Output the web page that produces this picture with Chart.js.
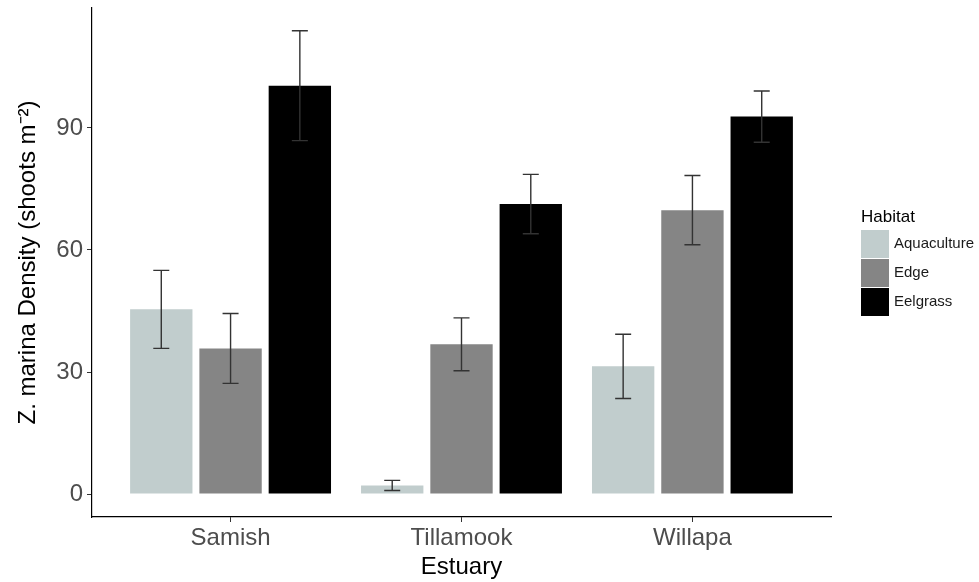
<!DOCTYPE html>
<html>
<head>
<meta charset="utf-8">
<script src="https://cdn.jsdelivr.net/npm/chart.js@4/dist/chart.umd.min.js"></script>
<style>
  html, body { margin: 0; padding: 0; background: #fff; }
  #wrap { width: 979px; height: 582px; position: relative; }
</style>
</head>
<body>
<div id="wrap"><canvas id="chart"></canvas></div>
<script>
// Data
const estuaries = ['Samish', 'Tillamook', 'Willapa'];
const habitats = ['Aquaculture', 'Edge', 'Eelgrass'];
const habitatColors = ['#C1CDCD', '#858585', '#000000'];

const aquaculture = [45.4, 2.1, 31.4];
const aquacultureSe = [9.6, 1.25, 7.9];
const edge = [35.8, 36.8, 69.8];
const edgeSe = [8.6, 6.5, 8.5];
const eelgrass = [100.4, 71.3, 92.8];
const eelgrassSe = [13.5, 7.3, 6.3];

const yTicks = [0, 30, 60, 90];

const seriesValues = [aquaculture, edge, eelgrass];
const seriesSe = [aquacultureSe, edgeSe, eelgrassSe];

const FONT = "'Liberation Sans', Arial, Helvetica, sans-serif";

// error bars drawn from the y scale
const errorBars = {
  id: 'errorBars',
  afterDatasetsDraw(chart) {
    const ctx = chart.ctx;
    const y = chart.scales.y;
    ctx.save();
    ctx.strokeStyle = '#333333';
    ctx.lineWidth = 1.4;
    chart.data.datasets.forEach((ds, di) => {
      const meta = chart.getDatasetMeta(di);
      meta.data.forEach((bar, i) => {
        const v = seriesValues[di][i];
        const se = seriesSe[di][i];
        const top = y.getPixelForValue(v + se);
        const bot = y.getPixelForValue(v - se);
        const half = 8;
        ctx.beginPath();
        ctx.moveTo(bar.x, top);
        ctx.lineTo(bar.x, bot);
        ctx.moveTo(bar.x - half, top);
        ctx.lineTo(bar.x + half, top);
        ctx.moveTo(bar.x - half, bot);
        ctx.lineTo(bar.x + half, bot);
        ctx.stroke();
      });
    });
    ctx.restore();
  }
};

// ggplot-like legend on the right
const sideLegend = {
  id: 'sideLegend',
  afterDraw(chart) {
    const ctx = chart.ctx;
    const area = chart.chartArea;
    const x0 = area.right + 30;
    const key = 28;
    const step = 29;
    const midY = (area.top + area.bottom) / 2;
    const titleY = midY - 45;
    const keyTop = titleY + 12.5;
    ctx.save();
    ctx.fillStyle = '#000';
    ctx.font = '17px ' + FONT;
    ctx.textAlign = 'left';
    ctx.textBaseline = 'middle';
    ctx.fillText('Habitat', x0, titleY);
    chart.data.datasets.forEach((ds, i) => {
      const ky = keyTop + i * step;
      ctx.fillStyle = ds.backgroundColor;
      ctx.fillRect(x0, ky, key, key);
      ctx.fillStyle = '#1a1a1a';
      ctx.font = '15px ' + FONT;
      ctx.fillText(ds.label, x0 + key + 5, ky + key / 2);
    });
    ctx.restore();
  }
};

new Chart(document.getElementById('chart'), {
  type: 'bar',
  data: {
    datasets: habitats.map((h, di) => ({
      label: h,
      data: seriesValues[di].map((v, i) => ({ x: i + 1, y: v })),
      backgroundColor: habitatColors[di],
      borderWidth: 0,
      categoryPercentage: 0.9,
      barPercentage: 0.9
    }))
  },
  options: {
    responsive: true,
    maintainAspectRatio: false,
    animation: false,
    layout: { padding: { top: 8, right: 148, left: 0, bottom: 0 } },
    plugins: {
      legend: { display: false },
      tooltip: { enabled: false }
    },
    scales: {
      x: {
        type: 'linear',
        min: 0.4,
        max: 3.6,
        offset: false,
        afterBuildTicks(scale) {
          scale.ticks = estuaries.map((e, i) => ({ value: i + 1 }));
        },
        afterFit(scale) {
          scale.height = 65;
          scale.paddingLeft = 0;
          scale.paddingRight = 0;
        },
        ticks: {
          callback: (v) => estuaries[v - 1] || '',
          color: '#4D4D4D',
          font: { family: FONT, size: 24, lineHeight: 1.2 },
          padding: 2,
          maxRotation: 0,
          autoSkip: false
        },
        grid: { display: true, offset: false, drawOnChartArea: false, drawTicks: true, tickLength: 5, color: '#333333', lineWidth: 1 },
        border: { display: true, color: '#000000', width: 1.2 },
        title: {
          display: true,
          text: 'Estuary',
          color: '#000',
          font: { family: FONT, size: 24, lineHeight: 1.2 },
          padding: { top: 0, bottom: 0 }
        }
      },
      y: {
        min: -5.65,
        max: 119.5,
        afterBuildTicks(scale) {
          scale.ticks = yTicks.map(v => ({ value: v }));
        },
        afterFit(scale) {
          scale.width = 92;
          scale.paddingTop = 0;
          scale.paddingBottom = 0;
        },
        ticks: {
          color: '#4D4D4D',
          font: { family: FONT, size: 24 },
          padding: 4
        },
        grid: { display: true, drawOnChartArea: false, drawTicks: true, tickLength: 5, color: '#333333', lineWidth: 1 },
        border: { display: true, color: '#000000', width: 1.2 },
        title: {
          display: true,
          text: 'Z. marina Density (shoots m\u207B\u00B2)',
          color: '#000',
          font: { family: FONT, size: 24, lineHeight: 1.2 },
          padding: { top: 14, bottom: 0 }
        }
      }
    }
  },
  plugins: [errorBars, sideLegend]
});
</script>
</body>
</html>
